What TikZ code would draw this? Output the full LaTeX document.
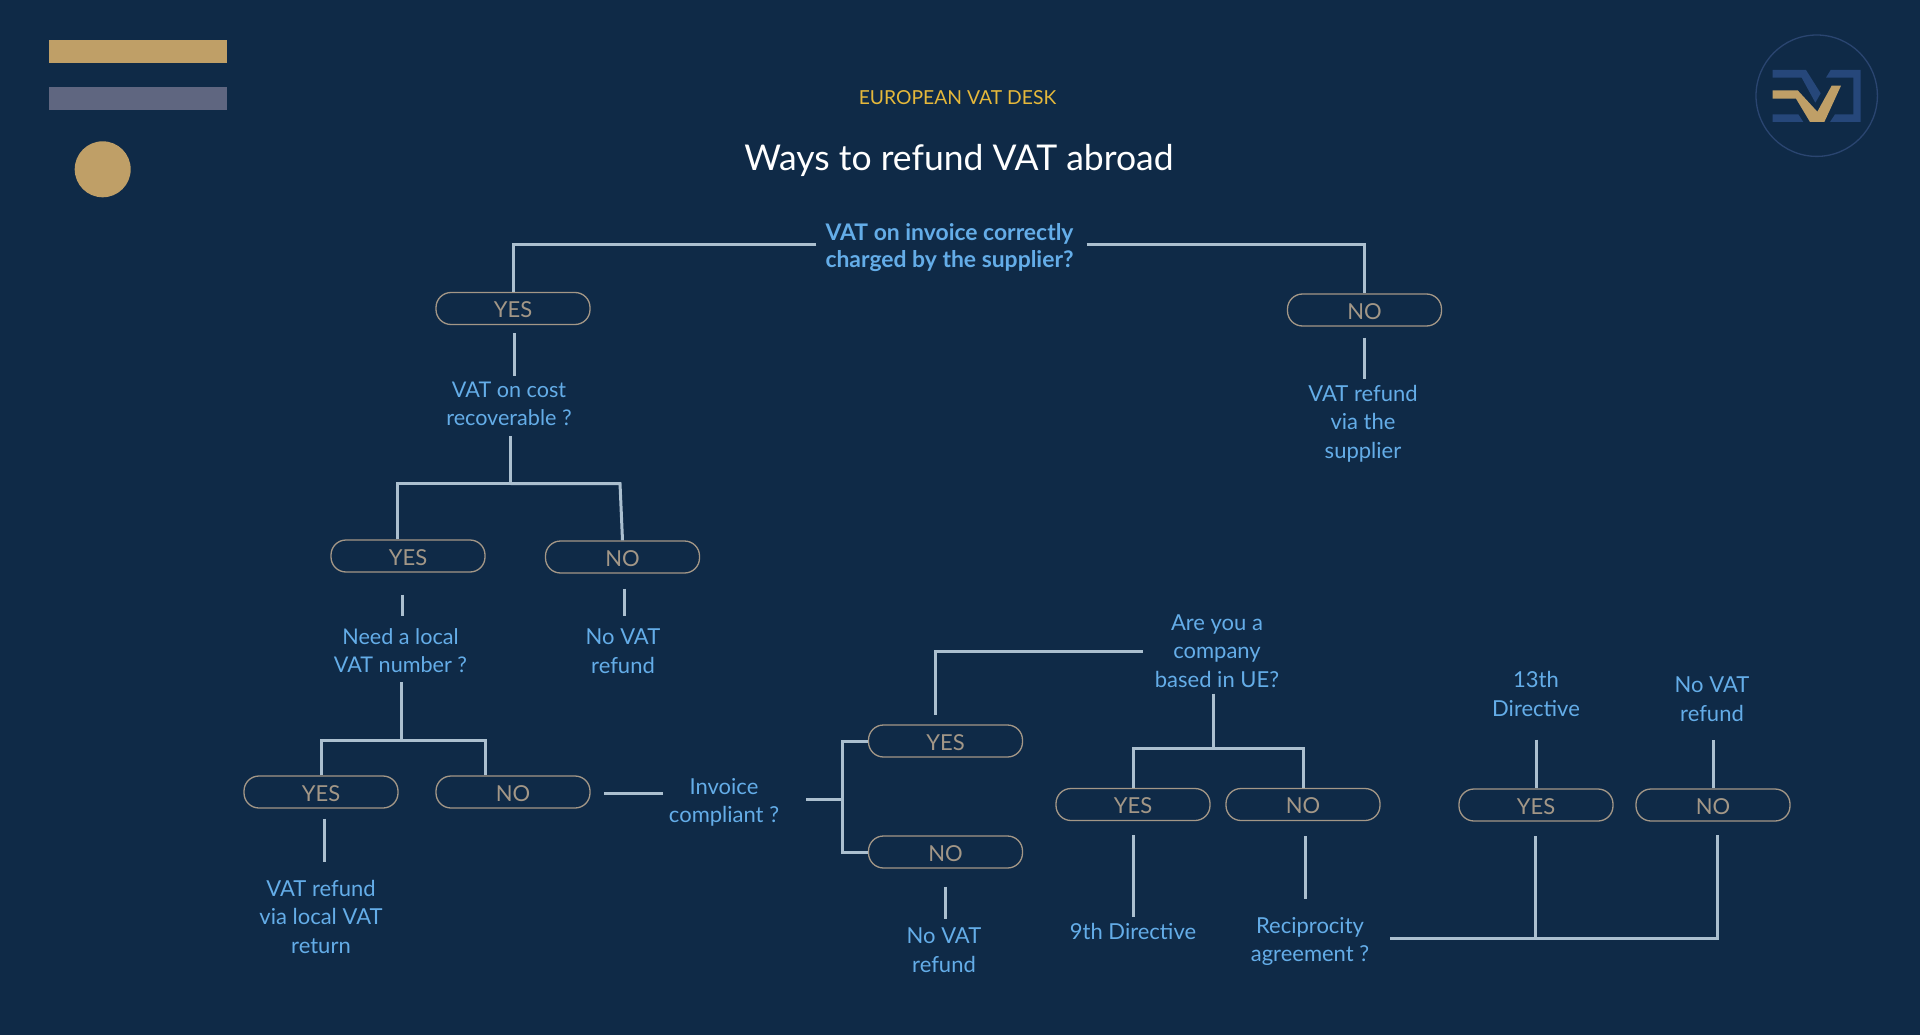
\documentclass[tikz,border=0pt]{standalone}
\usepackage{fontspec}
\setmainfont{Lato}
\definecolor{navy}{HTML}{0F2A47}
\definecolor{gold}{HTML}{BF9F67}
\definecolor{slate}{HTML}{5F6680}
\definecolor{logoblue}{HTML}{26477A}
\definecolor{ringblue}{HTML}{2A4570}
\definecolor{askblue}{HTML}{64ADE8}
\definecolor{linegrey}{HTML}{ABBFCF}
\definecolor{pilltan}{HTML}{A39787}
\definecolor{headyellow}{HTML}{E5B83B}
\tikzset{
    conn/.style={draw=linegrey,line width=3pt},
    pill/.style={draw=pilltan,line width=1.3pt,rounded corners=15pt,minimum width=154pt,minimum height=32pt,inner sep=0pt,text=pilltan,text height=18.5pt,text depth=0pt,font=\fontsize{22}{26}\selectfont},
    ask/.style={text=askblue,align=center,inner xsep=12pt,inner ysep=6pt,font=\fontsize{22}{28.5}\selectfont}
}
\begin{document}
\begin{tikzpicture}[x=1pt,y=-1pt]
    \useasboundingbox (0,0) rectangle (1920,1035);
    \fill[navy] (0,0) rectangle (1920,1035);
    \fill[gold] (49,40.5) rectangle (226.5,63.5);
    \fill[slate] (49,87.5) rectangle (226.5,110.5);
    \fill[gold] (102.7,169.3) circle (28);

    \draw[ringblue,line width=1.3pt] (1816.7,95.7) circle (60.7);
    \begin{scope}[shift={(1700,10)},scale=1/3]
        \fill[logoblue] (218,180)--(318,180)--(362,250)--(346,278)--(305,203)--(218,203)--cycle;
        \fill[logoblue] (218,313)--(295,313)--(310,336)--(218,336)--cycle;
        \fill[logoblue] (392,180)--(482,180)--(482,336)--(390,336)--(405,313)--(460,313)--(460,203)--(378,203)--cycle;
        \fill[gold] (218,241)--(293,241)--(352,305)--(395,227)--(423,227)--(373,336)--(330,336)--(288,266)--(218,266)--cycle;
    \end{scope}

    \node[text=headyellow,font=\fontsize{19.3}{23}\selectfont] (desk) at (957.5,98) {EUROPEAN VAT DESK};
    \node[text=white,font=\fontsize{35.5}{42}\selectfont] (title) at (959,160) {Ways to refund VAT abroad};

    \node[ask,inner xsep=13pt,font=\fontsize{22.9}{27}\selectfont\bfseries] (q0) at (949.5,247.5) {VAT on invoice correctly\\charged by the supplier?};
    \node[pill] (yes1) at (513,308.5) {YES};
    \node[pill] (no1) at (1364.5,310) {NO};
    \node[ask,font=\fontsize{21.6}{28}\selectfont] (q1) at (509,404) {VAT on cost\\recoverable ?};
    \node[ask] (r1) at (1363,423.5) {VAT refund\\via the\\supplier};
    \node[pill] (yes2) at (408,556) {YES};
    \node[pill] (no2) at (622.5,557) {NO};
    \node[ask,font=\fontsize{21.6}{28}\selectfont] (q2) at (400.5,651) {Need a local\\VAT number ?};
    \node[ask] (r2) at (623,651) {No VAT\\refund};
    \node[pill] (yes3) at (321,792) {YES};
    \node[pill] (no3) at (513,792) {NO};
    \node[ask] (r3) at (321,916.5) {VAT refund\\via local VAT\\return};
    \node[ask] (q3) at (724,802.5) {Invoice\\compliant ?};
    \node[pill] (yes4) at (945.5,741) {YES};
    \node[pill] (no4) at (945.5,852) {NO};
    \node[ask] (r4) at (944,950) {No VAT\\refund};
    \node[ask] (q4) at (1217,651) {Are you a\\company\\based in UE?};
    \node[pill] (yes5) at (1133,804.5) {YES};
    \node[pill] (no5) at (1303,804.5) {NO};
    \node[ask] (r5) at (1133,931) {9th Directive};
    \node[ask] (q5) at (1310,941.5) {Reciprocity\\agreement ?};
    \node[pill] (yes6) at (1536,805) {YES};
    \node[pill] (no6) at (1713,805) {NO};
    \node[ask] (r6) at (1536,694) {13th\\Directive};
    \node[ask] (r7) at (1712,699) {No VAT\\refund};

    \coordinate (j0) at (949.5,245);
    \coordinate (j1) at (510.5,483.5);
    \coordinate (j2) at (401.6,740);
    \coordinate (j3) at (842,799);
    \coordinate (j4) at (1213.5,748);
    \coordinate (j5) at (1535.5,938);
    \coordinate (c1) at (935,715);
    \coordinate (c2) at (604,793.5);
    \coordinate (c3) at (662.5,793.5);
    \coordinate (c4) at (1390,938);
    \coordinate (c5) at (1717,835);

    \draw[conn,shorten <=-4pt] (j0 -| q0.west) -| (yes1.north);
    \draw[conn] (j0 -| q0.east) -| (no1.north);
    \draw[conn,shorten <=8pt] ([xshift=1pt]yes1.south) -- ([xshift=1pt]yes1.south |- q1.north);
    \draw[conn,shorten <=11pt] (no1.south) -- (no1.south |- r1.north);

    \draw[conn,shorten <=4pt] (j1 |- q1.south) -- (j1);
    \draw[conn] ([xshift=-11pt]yes2.north) |- (j1);
    \draw[conn] (j1) -- (620,483.5) -- (no2.north);
    \draw[conn,shorten <=22pt,shorten >=7pt] ([xshift=-6pt]yes2.south) -- ([xshift=-6pt]yes2.south |- q2.north);
    \draw[conn,shorten <=15pt,shorten >=7pt] ([xshift=2pt]no2.south) -- ([xshift=2pt]no2.south |- r2.north);

    \draw[conn,shorten <=3pt] (j2 |- q2.south) -- (j2);
    \draw[conn] (yes3.north) |- (j2);
    \draw[conn] ([xshift=-28pt]no3.north) |- (j2);
    \draw[conn,shorten <=10pt,shorten >=12pt] ([xshift=3pt]yes3.south) -- ([xshift=3pt]yes3.south |- r3.north);

    \draw[conn] (c2) -- (c3);
    \draw[conn,shorten <=15pt] (j3 -| q3.east) -- (j3);
    \draw[conn] (yes4.west) -| (j3);
    \draw[conn] (no4.west) -| (j3);
    \draw[conn,shorten <=18pt,shorten >=3pt] (no4.south) -- (no4.south |- r4.north);

    \draw[conn] (q4.west) -| (c1);
    \draw[conn] (j4 |- q4.south) -- (j4);
    \draw[conn] (yes5.north) |- (j4);
    \draw[conn] (no5.north) |- (j4);
    \draw[conn,shorten <=14pt] (yes5.south) -- (yes5.south |- r5.north);
    \draw[conn,shorten <=15pt,shorten >=12pt] ([xshift=2pt]no5.south) -- ([xshift=2pt]no5.south |- q5.north);

    \draw[conn] (c4) -| (c5);
    \draw[conn,shorten >=14pt] (j5) -- (j5 |- yes6.south);
    \draw[conn,shorten <=17pt] (r6.south) -- (yes6.north);
    \draw[conn,shorten <=13pt] (no6.north |- r7.south) -- (no6.north);
\end{tikzpicture}
\end{document}
